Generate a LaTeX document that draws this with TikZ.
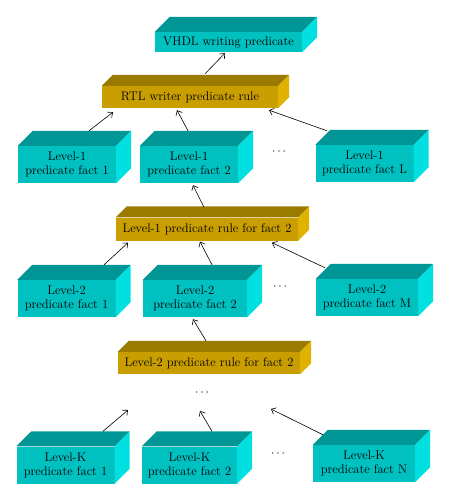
\documentclass[tikz,border=0pt]{standalone}
\usepackage{xcolor}
\usepackage{tikz}
\usetikzlibrary{arrows.meta,positioning}
\tikzset{>={Straight Barb[length=4pt,width=7pt]}}
\definecolor{factfront}{RGB}{0,192,192}
\definecolor{facttop}{RGB}{0,150,150}
\definecolor{factside}{RGB}{0,224,224}
\definecolor{rulefront}{RGB}{200,158,0}
\definecolor{ruletop}{RGB}{155,122,0}
\definecolor{ruleside}{RGB}{224,178,0}

\begin{document}
\begin{tikzpicture}[x=1pt,y=-1pt,
                    fact/.style={fill=factfront, minimum width=98pt, minimum height=37pt,
                                 inner sep=0pt, align=center, font=\fontsize{12.5}{14}\selectfont},
                    rule/.style={fill=rulefront, minimum width=182pt, minimum height=23pt,
                                 inner sep=0pt, font=\fontsize{12.5}{14}\selectfont},
                    dots/.style={inner sep=0pt, font=\fontsize{12}{14}\selectfont},
                    myarrow/.style={->, semithick, black},
                   ]
\useasboundingbox (0,0) rectangle (449,500);

% the front faces
\node[fact, minimum width=147pt, minimum height=20pt] (vhdl) at (228.5,42) {VHDL writing predicate};
\node[rule, minimum width=176pt, minimum height=22pt] (rtl) at (190,97) {RTL writer predicate rule};

\node[fact] (oneA) at (67,164.5) {Level-1\\predicate fact 1};
\node[fact] (oneB) at (189,164.5) {Level-1\\predicate fact 2};
\node[fact] (oneL) at (364.5,163.5) {Level-1\\predicate fact L};
\node[dots] (dotsone) at (279,152) {$\cdots$};

\node[rule] (ruleone) at (207,229) {Level-1 predicate rule for fact 2};

\node[fact] (twoA) at (66.5,298.5) {Level-2\\predicate fact 1};
\node[fact, minimum width=104pt] (twoB) at (195,298.5) {Level-2\\predicate fact 2};
\node[fact, minimum width=102pt] (twoM) at (367,297.5) {Level-2\\predicate fact M};
\node[dots] (dotstwo) at (280,287) {$\cdots$};

\node[rule, minimum height=22pt] (ruletwo) at (209,363) {Level-2 predicate rule for fact 2};
\node[dots] (dotsmid) at (202,393) {$\cdots$};

\node[fact] (kA) at (65.5,465) {Level-K\\predicate fact 1};
\node[fact, minimum width=95pt] (kB) at (189.5,465) {Level-K\\predicate fact 2};
\node[fact, minimum width=102pt] (kN) at (364,463.5) {Level-K\\predicate fact N};
\node[dots] (dotsk) at (278,454) {$\cdots$};

% top and side faces
\foreach \n in {vhdl,oneA,oneB,oneL,twoA,twoB,twoM,kA,kB,kN}{
  \fill[facttop] (\n.north west) -- ++(15,-15) -- ([shift={(15,-15)}]\n.north east) -- (\n.north east) -- cycle;
  \fill[factside] (\n.north east) -- ++(15,-15) -- ([shift={(15,-15)}]\n.south east) -- (\n.south east) -- cycle;
}
\foreach \n in {rtl,ruleone,ruletwo}{
  \fill[ruletop] (\n.north west) -- ++(11,-11) -- ([shift={(11,-11)}]\n.north east) -- (\n.north east) -- cycle;
  \fill[ruleside] (\n.north east) -- ++(11,-11) -- ([shift={(11,-11)}]\n.south east) -- (\n.south east) -- cycle;
}

% free ends of the last arrows
\coordinate (endA) at (128,410);
\coordinate (endB) at (200,411);
\coordinate (endN) at (271,409);

\draw[myarrow] ([shift={(15,-12)}]rtl.north) -- ([shift={(-3.5,1)}]vhdl.south);
\draw[myarrow] ([shift={(22,-15)}]oneA.north) -- ([shift={(-77,4)}]rtl.south);
\draw[myarrow] ([shift={(-1,-15)}]oneB.north) -- ([shift={(-13,2)}]rtl.south);
\draw[myarrow] ([shift={(-37.5,-14)}]oneL.north) -- ([shift={(79,2)}]rtl.south);

\draw[myarrow] ([shift={(-3,-10)}]ruleone.north) -- ([shift={(4,2)}]oneB.south);
\draw[myarrow] ([shift={(37.5,-15)}]twoA.north) -- ([shift={(-79,2)}]ruleone.south);
\draw[myarrow] ([shift={(17,-15)}]twoB.north) -- ([shift={(-7,1)}]ruleone.south);
\draw[myarrow] ([shift={(-42,-11)}]twoM.north) -- ([shift={(65,2)}]ruleone.south);

\draw[myarrow] ([shift={(-3,-11)}]ruletwo.north) -- ([shift={(-2,2)}]twoB.south);

\draw[myarrow] ([shift={(37.5,-15)}]kA.north) -- (endA);
\draw[myarrow] ([shift={(22.5,-15)}]kB.north) -- (endB);
\draw[myarrow] ([shift={(-41,-10)}]kN.north) -- (endN);

\end{tikzpicture}
\end{document}
